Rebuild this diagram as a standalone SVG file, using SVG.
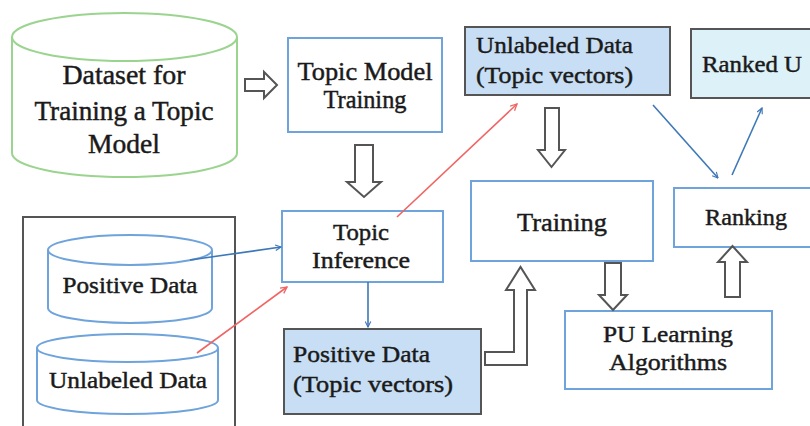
<svg xmlns="http://www.w3.org/2000/svg" width="810" height="426" viewBox="0 0 810 426">
<defs>
<style>
.t{font-family:"Liberation Serif","Times New Roman",serif;fill:#1a1a1a;stroke:#1a1a1a;stroke-width:0.45}
.c{text-anchor:middle}
.box{fill:#ffffff;stroke:#6fa3dc;stroke-width:2}
.dbox{fill:#c7def4;stroke:#555555;stroke-width:2}
.hol{fill:#ffffff;stroke:#555555;stroke-width:2;stroke-linejoin:miter}
.bl{stroke:#3d78b8;stroke-width:1.6;fill:none}
.rd{stroke:#f06464;stroke-width:1.6;fill:none}
.cyl{fill:#ffffff;stroke:#6fa3dc;stroke-width:2}
</style>
<marker id="ab" viewBox="0 0 10 10" refX="9" refY="5" markerWidth="7" markerHeight="7" orient="auto" markerUnits="userSpaceOnUse"><path d="M1,1 L9,5 L1,9" fill="none" stroke="#3d78b8" stroke-width="1.6"/></marker>
<marker id="ar" viewBox="0 0 10 10" refX="9" refY="5" markerWidth="8" markerHeight="8" orient="auto" markerUnits="userSpaceOnUse"><path d="M1,1 L9,5 L1,9" fill="none" stroke="#f06464" stroke-width="1.6"/></marker>
</defs>
<rect width="810" height="426" fill="#ffffff"/>

<g id="dataset">
<path d="M12,37 L12,153 A112.5,24 0 0 0 237,153 L237,37" fill="#ffffff" stroke="#9ad48f" stroke-width="2"/>
<ellipse cx="124.5" cy="37" rx="112.5" ry="24" fill="#ffffff" stroke="#9ad48f" stroke-width="2"/>
<text class="t c" x="124" y="84" font-size="27" textLength="123" lengthAdjust="spacingAndGlyphs">Dataset for</text>
<text class="t c" x="124" y="120" font-size="27" textLength="179" lengthAdjust="spacingAndGlyphs">Training  a Topic</text>
<text class="t c" x="124" y="153" font-size="27" textLength="72" lengthAdjust="spacingAndGlyphs">Model</text>
</g>

<g id="topic-model-training">
<rect class="box" x="288" y="38" width="154" height="94"/>
<text class="t c" x="365" y="80" font-size="25" textLength="135" lengthAdjust="spacingAndGlyphs">Topic Model</text>
<text class="t c" x="365" y="108" font-size="25" textLength="83" lengthAdjust="spacingAndGlyphs">Training</text>
</g>

<g id="unlabeled-vectors">
<rect class="dbox" x="465" y="27" width="205" height="68"/>
<text class="t" x="476" y="53" font-size="24" textLength="157" lengthAdjust="spacingAndGlyphs">Unlabeled Data</text>
<text class="t" x="476" y="83" font-size="24" textLength="157" lengthAdjust="spacingAndGlyphs">(Topic vectors)</text>
</g>

<g id="ranked-u">
<rect x="691" y="29" width="125" height="69" fill="#ddf1f8" stroke="#555555" stroke-width="2"/>
<text class="t" x="702" y="72" font-size="24" textLength="100" lengthAdjust="spacingAndGlyphs">Ranked U</text>
</g>

<g id="data-container">
<rect x="23" y="217" width="212" height="230" fill="none" stroke="#555555" stroke-width="2"/>
</g>

<g id="positive-data">
<path class="cyl" d="M48,250 L48,308 A82,15 0 0 0 212,308 L212,250"/>
<ellipse class="cyl" cx="130" cy="250" rx="82" ry="15"/>
<text class="t c" x="130" y="293" font-size="23" textLength="135" lengthAdjust="spacingAndGlyphs">Positive Data</text>
</g>

<g id="unlabeled-data">
<path class="cyl" d="M37,348 L37,400 A90.5,14 0 0 0 218,400 L218,348"/>
<ellipse class="cyl" cx="127.5" cy="348" rx="90.5" ry="14"/>
<text class="t c" x="128" y="388" font-size="23" textLength="158" lengthAdjust="spacingAndGlyphs">Unlabeled Data</text>
</g>

<g id="topic-inference">
<rect class="box" x="282" y="211" width="161" height="71"/>
<text class="t c" x="361" y="240" font-size="24" textLength="56" lengthAdjust="spacingAndGlyphs">Topic</text>
<text class="t c" x="361" y="268" font-size="24" textLength="98" lengthAdjust="spacingAndGlyphs">Inference</text>
</g>

<g id="positive-vectors">
<rect class="dbox" x="284" y="329" width="197" height="85"/>
<text class="t" x="293" y="362" font-size="24" textLength="137" lengthAdjust="spacingAndGlyphs">Positive Data</text>
<text class="t" x="293" y="392" font-size="24" textLength="160" lengthAdjust="spacingAndGlyphs">(Topic vectors)</text>
</g>

<g id="training">
<rect class="box" x="471" y="181" width="182" height="80"/>
<text class="t c" x="562" y="231" font-size="25" textLength="90" lengthAdjust="spacingAndGlyphs">Training</text>
</g>

<g id="ranking">
<rect class="box" x="674" y="188" width="142" height="59"/>
<text class="t c" x="746" y="225" font-size="24" textLength="82" lengthAdjust="spacingAndGlyphs">Ranking</text>
</g>

<g id="pu-learning">
<rect class="box" x="565" y="311" width="207" height="78"/>
<text class="t c" x="668" y="342" font-size="24" textLength="130" lengthAdjust="spacingAndGlyphs">PU Learning</text>
<text class="t c" x="668" y="370" font-size="24" textLength="118" lengthAdjust="spacingAndGlyphs">Algorithms</text>
</g>

<g id="connectors">
<path class="hol" d="M245,79 L264,79 L264,72 L277,85 L264,98 L264,91 L245,91 Z"/>
<path class="hol" d="M355,145 L373,145 L373,182 L381,182 L364,197 L347,182 L355,182 Z"/>
<path class="hol" d="M545,108 L559,108 L559,150 L565,150 L551.5,167 L538,150 L545,150 Z"/>
<path class="hol" d="M605,263 L621,263 L621,295 L627,295 L613,310 L599,295 L605,295 Z"/>
<path class="hol" d="M725,297 L740,297 L740,262 L747,262 L732.5,246 L718,262 L725,262 Z"/>
<path class="hol" d="M485,352 L514,352 L514,290 L506,290 L520.5,267 L535,290 L527,290 L527,365 L485,365 Z"/>
<line class="bl" x1="190" y1="260" x2="281" y2="247" marker-end="url(#ab)"/>
<line class="rd" x1="197" y1="353" x2="287" y2="287" marker-end="url(#ar)"/>
<line class="rd" x1="397" y1="217" x2="517" y2="104" marker-end="url(#ar)"/>
<line class="bl" x1="368" y1="282" x2="368" y2="327" marker-end="url(#ab)"/>
<line class="bl" x1="653" y1="105" x2="718" y2="178" marker-end="url(#ab)"/>
<line class="bl" x1="732" y1="175" x2="762" y2="108" marker-end="url(#ab)"/>
</g>
</svg>
